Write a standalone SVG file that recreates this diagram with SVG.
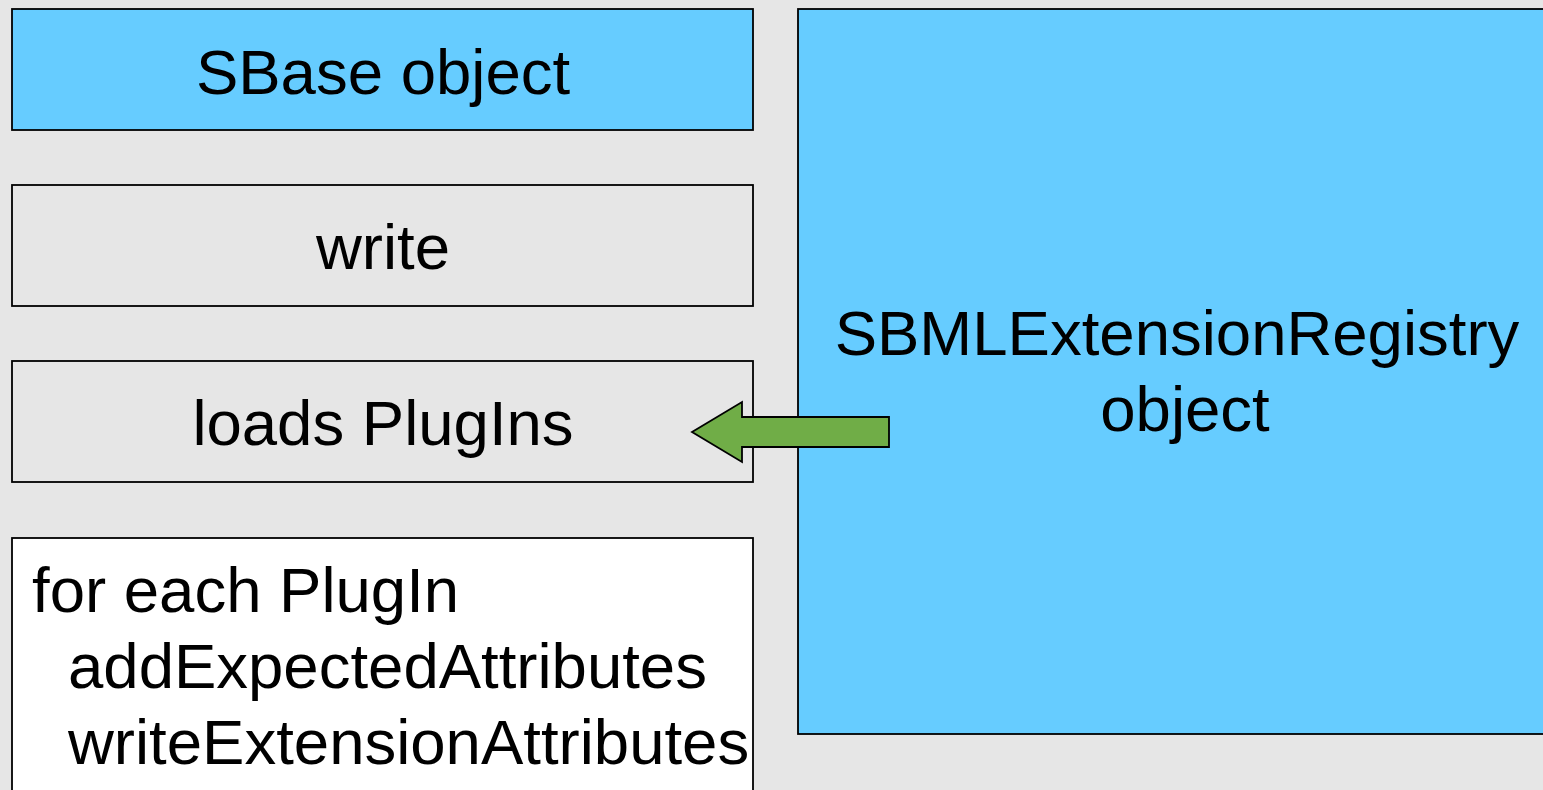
<svg xmlns="http://www.w3.org/2000/svg" width="1543" height="790" viewBox="0 0 1543 790">
<style>
.box{stroke:#000;stroke-width:1.8}
.blue{fill:#66ccff}
.grey{fill:#e6e6e6}
.white{fill:#ffffff}
text{font-family:"Liberation Sans",Arial,sans-serif;font-size:63.5px;fill:#000}
.c{text-anchor:middle}
</style>
<rect x="0" y="0" width="1543" height="790" fill="#e6e6e6"/>
<g id="sbase">
<rect class="box blue" x="12" y="9" width="741" height="121"/>
<text class="c" x="383" y="94">SBase object</text>
</g>
<g id="write">
<rect class="box grey" x="12" y="185" width="741" height="121"/>
<text class="c" x="383" y="269">write</text>
</g>
<g id="loads">
<rect class="box grey" x="12" y="361" width="741" height="121"/>
<text class="c" x="383" y="445">loads PlugIns</text>
</g>
<g id="foreach">
<rect class="box white" x="12" y="538" width="741" height="270"/>
<text x="32" y="612">for each PlugIn</text>
<text x="68" y="688">addExpectedAttributes</text>
<text x="68" y="764">writeExtensionAttributes</text>
</g>
<g id="registry">
<rect class="box blue" x="798" y="9" width="760" height="725"/>
<text class="c" x="1177" y="355">SBMLExtensionRegistry</text>
<text class="c" x="1185" y="431">object</text>
</g>
<g id="connectors">
<polygon points="692,432 742,402 742,417 889,417 889,447 742,447 742,462" fill="#70ad47" stroke="#000" stroke-width="1.8"/>
</g>
</svg>
